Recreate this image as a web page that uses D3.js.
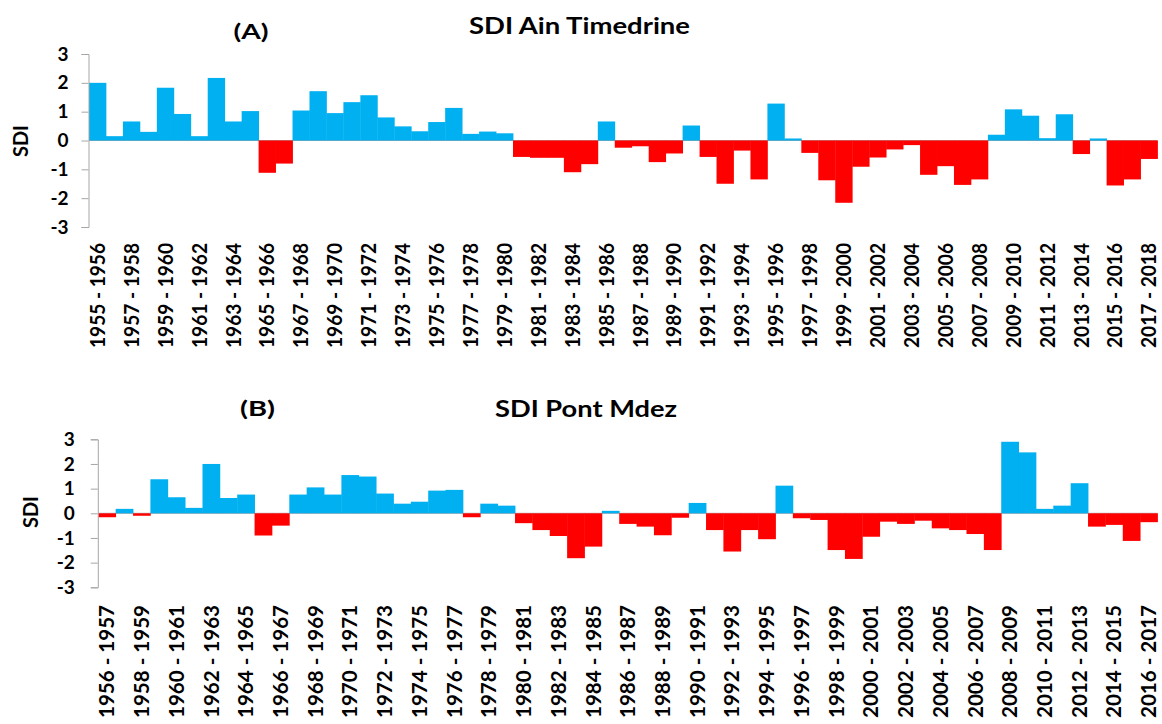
<!DOCTYPE html>
<html>
<head>
<meta charset="utf-8">
<script src="https://cdn.jsdelivr.net/npm/d3@7"></script>
<style>
  html, body { margin: 0; padding: 0; background: #ffffff; }
  svg { display: block; }
  text { font-family: Lato, "Open Sans", "Liberation Sans", sans-serif; font-weight: 700; fill: #000; }
</style>
</head>
<body>
<svg id="chart" width="1162" height="724"></svg>
<script>
// ---------- DATA ----------
const categoriesA = ["1955 - 1956","1956 - 1957","1957 - 1958","1958 - 1959","1959 - 1960","1960 - 1961","1961 - 1962","1962 - 1963","1963 - 1964","1964 - 1965",
  "1965 - 1966","1966 - 1967","1967 - 1968","1968 - 1969","1969 - 1970","1970 - 1971","1971 - 1972","1972 - 1973","1973 - 1974","1974 - 1975",
  "1975 - 1976","1976 - 1977","1977 - 1978","1978 - 1979","1979 - 1980","1980 - 1981","1981 - 1982","1982 - 1983","1983 - 1984","1984 - 1985",
  "1985 - 1986","1986 - 1987","1987 - 1988","1988 - 1989","1989 - 1990","1990 - 1991","1991 - 1992","1992 - 1993","1993 - 1994","1994 - 1995",
  "1995 - 1996","1996 - 1997","1997 - 1998","1998 - 1999","1999 - 2000","2000 - 2001","2001 - 2002","2002 - 2003","2003 - 2004","2004 - 2005",
  "2005 - 2006","2006 - 2007","2007 - 2008","2008 - 2009","2009 - 2010","2010 - 2011","2011 - 2012","2012 - 2013","2013 - 2014","2014 - 2015",
  "2015 - 2016","2016 - 2017","2017 - 2018"];
const sdiA = [2.0, 0.15, 0.66, 0.3, 1.83, 0.92, 0.15, 2.17, 0.66, 1.02,
  -1.12, -0.8, 1.04, 1.71, 0.95, 1.33, 1.57, 0.8, 0.49, 0.32,
  0.64, 1.13, 0.23, 0.31, 0.25, -0.57, -0.6, -0.6, -1.1, -0.82,
  0.66, -0.25, -0.2, -0.75, -0.45, 0.52, -0.57, -1.5, -0.35, -1.35,
  1.28, 0.07, -0.43, -1.38, -2.16, -0.91, -0.59, -0.31, -0.16, -1.19,
  -0.89, -1.54, -1.35, 0.2, 1.08, 0.86, 0.08, 0.91, -0.47, 0.07,
  -1.56, -1.35, -0.64];

const categoriesB = ["1956 - 1957","1957 - 1958","1958 - 1959","1959 - 1960","1960 - 1961","1961 - 1962","1962 - 1963","1963 - 1964","1964 - 1965","1965 - 1966",
  "1966 - 1967","1967 - 1968","1968 - 1969","1969 - 1970","1970 - 1971","1971 - 1972","1972 - 1973","1973 - 1974","1974 - 1975","1975 - 1976",
  "1976 - 1977","1977 - 1978","1978 - 1979","1979 - 1980","1980 - 1981","1981 - 1982","1982 - 1983","1983 - 1984","1984 - 1985","1985 - 1986",
  "1986 - 1987","1987 - 1988","1988 - 1989","1989 - 1990","1990 - 1991","1991 - 1992","1992 - 1993","1993 - 1994","1994 - 1995","1995 - 1996",
  "1996 - 1997","1997 - 1998","1998 - 1999","1999 - 2000","2000 - 2001","2001 - 2002","2002 - 2003","2003 - 2004","2004 - 2005","2005 - 2006",
  "2006 - 2007","2007 - 2008","2008 - 2009","2009 - 2010","2010 - 2011","2011 - 2012","2012 - 2013","2013 - 2014","2014 - 2015","2015 - 2016",
  "2016 - 2017"];
const sdiB = [-0.16, 0.18, -0.1, 1.38, 0.65, 0.22, 2.0, 0.62, 0.76, -0.9,
  -0.5, 0.76, 1.05, 0.76, 1.55, 1.49, 0.8, 0.39, 0.47, 0.92,
  0.95, -0.16, 0.39, 0.31, -0.4, -0.68, -0.92, -1.82, -1.35, 0.1,
  -0.43, -0.54, -0.89, -0.18, 0.42, -0.68, -1.55, -0.68, -1.05, 1.12,
  -0.2, -0.27, -1.49, -1.85, -0.95, -0.34, -0.43, -0.3, -0.61, -0.68,
  -0.84, -1.49, 2.9, 2.47, 0.18, 0.31, 1.22, -0.54, -0.47, -1.12,
  -0.36];

const yTicks = [-3, -2, -1, 0, 1, 2, 3];

// ---------- STYLE / LAYOUT ----------
const BLUE = "#00B0F0", RED = "#FF0000", AXIS = "#A6A6A6";

const panels = [
  { cats: categoriesA, vals: sdiA, letter: "(A)", title: "SDI Ain Timedrine",
    x0: 89, x1: 1157.5, yTop: 54, yBot: 227,
    letterX: 251, letterY: 39, letterLen: 35, titleX: 579.5, titleY: 34, titleLen: 221,
    sdiX: 28, sdiY: 141, tickPad: 13, labTop: 243, labLen: 105 },
  { cats: categoriesB, vals: sdiB, letter: "(B)", title: "SDI Pont Mdez",
    x0: 98.3, x1: 1157.5, yTop: 439.3, yBot: 587.3,
    letterX: 257.5, letterY: 416, letterLen: 35, titleX: 586, titleY: 417, titleLen: 182,
    sdiX: 38, sdiY: 512, tickPad: 16, labTop: 605, labLen: 113 }
];

const svg = d3.select("#chart");

panels.forEach(p => {
  const g = svg.append("g");
  const x = d3.scaleBand().domain(p.cats).range([p.x0, p.x1]).padding(0);
  const y = d3.scaleLinear().domain([-3, 3]).range([p.yBot, p.yTop]);

  // zero line
  g.append("line")
    .attr("x1", p.x0).attr("x2", p.x1)
    .attr("y1", y(0)).attr("y2", y(0))
    .attr("stroke", AXIS).attr("stroke-width", 1);

  // bars
  g.selectAll("rect.bar").data(p.vals).enter().append("rect")
    .attr("class", "bar")
    .attr("x", (d, i) => x(p.cats[i]))
    .attr("width", x.bandwidth() + 0.4)
    .attr("y", d => y(Math.max(0, d)))
    .attr("height", d => Math.abs(y(d) - y(0)))
    .attr("fill", d => d >= 0 ? BLUE : RED);

  // y axis
  const ax = g.append("g")
    .attr("transform", `translate(${p.x0 - 0.5},0)`)
    .call(d3.axisLeft(y).tickValues(yTicks).tickSize(7).tickPadding(p.tickPad).tickFormat(d => String(d)));
  ax.select(".domain").attr("stroke", AXIS);
  ax.selectAll(".tick line").attr("stroke", AXIS);
  ax.selectAll(".tick text")
    .attr("font-family", 'Lato, "Open Sans", "Liberation Sans", sans-serif')
    .attr("font-weight", 700).attr("font-size", 19).attr("fill", "#000");

  // x labels (every other category)
  g.selectAll("text.xlab").data(p.cats.filter((c, i) => i % 2 === 0)).enter().append("text")
    .attr("class", "xlab")
    .attr("transform", d => `translate(${x(d) + x.bandwidth() / 2},${p.labTop}) rotate(-90)`)
    .attr("text-anchor", "end")
    .attr("dy", "0.35em")
    .attr("font-size", 21)
    .attr("textLength", p.labLen)
    .attr("lengthAdjust", "spacingAndGlyphs")
    .text(d => d);

  // y title
  g.append("text")
    .attr("transform", `translate(${p.sdiX},${p.sdiY}) rotate(-90)`)
    .attr("text-anchor", "middle")
    .attr("font-size", 21)
    .attr("textLength", 32).attr("lengthAdjust", "spacingAndGlyphs")
    .text("SDI");

  // panel letter and title
  g.append("text")
    .attr("x", p.letterX).attr("y", p.letterY)
    .attr("text-anchor", "middle").attr("font-size", 21)
    .attr("textLength", p.letterLen).attr("lengthAdjust", "spacingAndGlyphs")
    .text(p.letter);
  g.append("text")
    .attr("x", p.titleX).attr("y", p.titleY)
    .attr("text-anchor", "middle").attr("font-size", 23)
    .attr("textLength", p.titleLen).attr("lengthAdjust", "spacingAndGlyphs")
    .text(p.title);
});
</script>
</body>
</html>
